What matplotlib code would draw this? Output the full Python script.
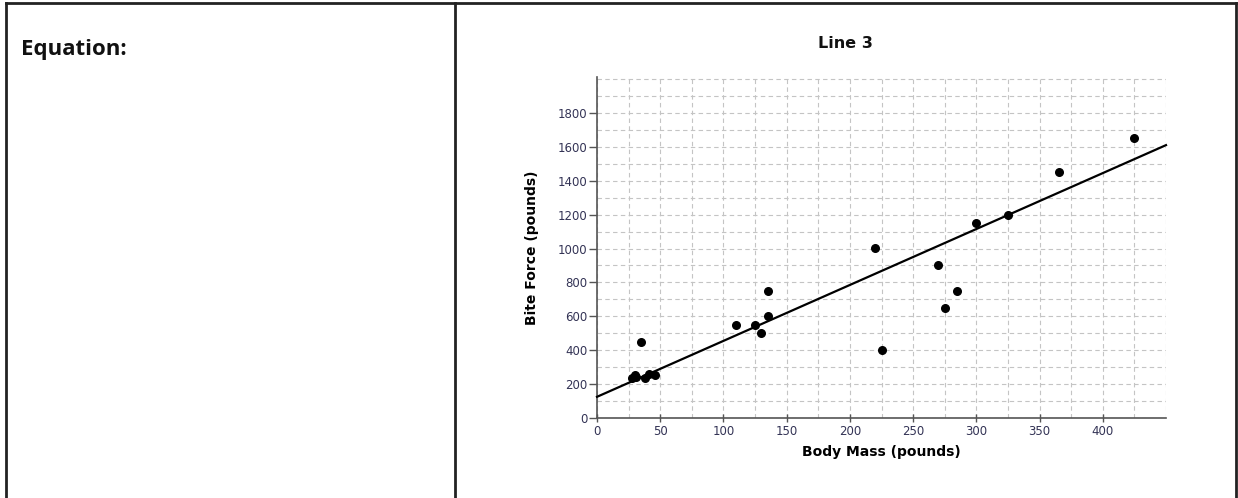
import matplotlib
matplotlib.use("Agg")
import matplotlib.pyplot as plt
from matplotlib.lines import Line2D
import numpy as np

# Data
body_mass = [28, 30, 31, 35, 38, 41, 46, 110, 125, 130, 135, 135, 220, 225,
             270, 275, 285, 300, 325, 365, 425]
bite_force = [235, 255, 240, 450, 235, 260, 255, 550, 550, 500, 750, 600, 1005, 400,
              905, 650, 750, 1150, 1200, 1450, 1650]
line_x = [0, 450]
line_y = [125, 1610]
x_ticks = [0, 50, 100, 150, 200, 250, 300, 350, 400]
y_ticks = [0, 200, 400, 600, 800, 1000, 1200, 1400, 1600, 1800]

W, H = 1238, 498
fig = plt.figure(figsize=(W / 100, H / 100), dpi=100)
fig.patch.set_facecolor("white")


def fx(px):
    return px / W


def fy(py):
    return 1 - py / H


# Table borders
border_kw = dict(color="#222222", lw=2.0, transform=fig.transFigure)
fig.add_artist(Line2D([fx(6), fx(1236)], [fy(3), fy(3)], **border_kw))
fig.add_artist(Line2D([fx(6), fx(6)], [fy(3), fy(498)], **border_kw))
fig.add_artist(Line2D([fx(1236), fx(1236)], [fy(3), fy(498)], **border_kw))
fig.add_artist(Line2D([fx(455), fx(455)], [fy(3), fy(498)], **border_kw))

fig.text(fx(21), fy(50), "Equation:", fontsize=16, fontweight="bold",
         family=["Open Sans", "DejaVu Sans"], va="center", ha="left", color="#111111")

ax = fig.add_axes([fx(597), fy(418), (1166 - 597) / W, (418 - 77) / H])
ax.set_xlim(0, 450)
ax.set_ylim(0, 2012)

ax.set_xticks(np.arange(0, 451, 25), minor=True)
ax.set_yticks(np.arange(0, 2001, 100), minor=True)
ax.set_xticks(x_ticks)
ax.set_yticks(y_ticks)
ax.set_xticklabels([str(v) for v in x_ticks])
ax.set_yticklabels([str(v) for v in y_ticks])

ax.grid(which="both", linestyle=(0, (4, 3)), color="#c4c4c4", lw=0.8)
ax.set_axisbelow(True)
ax.tick_params(which="minor", length=0)
ax.tick_params(axis="x", which="major", labelsize=8.5, colors="#555555",
               length=6, width=1, direction="inout", pad=2)
ax.tick_params(axis="y", which="major", labelsize=8.5, colors="#555555",
               length=6, width=1, direction="out", pad=1)
for lab in ax.get_xticklabels() + ax.get_yticklabels():
    lab.set_color("#333355")

for s in ["top", "right"]:
    ax.spines[s].set_visible(False)
for s in ["left", "bottom"]:
    ax.spines[s].set_color("#555555")
    ax.spines[s].set_linewidth(1.2)

ax.plot(line_x, line_y, color="black", lw=1.6, clip_on=False, zorder=3)
ax.scatter(body_mass, bite_force, s=30, color="black", zorder=4)

fig.text(fx(845), fy(44), "Line 3", fontsize=11.5, fontweight="bold",
         ha="center", va="center", color="#111111")
ax.set_xlabel("Body Mass (pounds)", fontsize=10, fontweight="bold", labelpad=5)
ax.set_ylabel("Bite Force (pounds)", fontsize=10, fontweight="bold", labelpad=13)

fig.savefig("out.png", dpi=100, facecolor="white")
